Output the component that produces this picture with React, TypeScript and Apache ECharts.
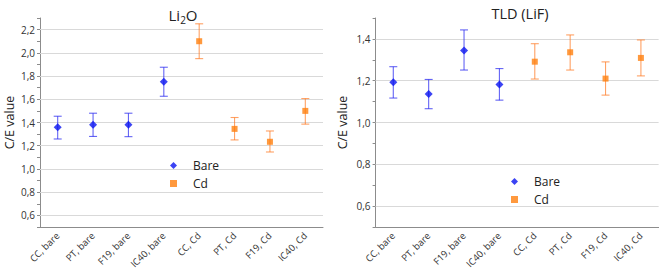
import React, { useEffect, useRef } from "react";
import * as echarts from "echarts";

const categories = ["CC, bare", "PT, bare", "F19, bare", "IC40, bare", "CC, Cd", "PT, Cd", "F19, Cd", "IC40, Cd"];

// Li2O panel
const li2oBare = [1.36, 1.38, 1.38, 1.75];
const li2oBareLow = [1.258, 1.28, 1.278, 1.626];
const li2oBareHigh = [1.454, 1.48, 1.48, 1.876];
const li2oCd = [2.1, 1.345, 1.234, 1.5];
const li2oCdLow = [1.95, 1.25, 1.146, 1.386];
const li2oCdHigh = [2.25, 1.443, 1.327, 1.606];

// TLD (LiF) panel
const tldBare = [1.192, 1.136, 1.345, 1.182];
const tldBareLow = [1.117, 1.066, 1.251, 1.107];
const tldBareHigh = [1.267, 1.206, 1.443, 1.258];
const tldCd = [1.291, 1.336, 1.21, 1.309];
const tldCdLow = [1.208, 1.251, 1.131, 1.223];
const tldCdHigh = [1.377, 1.419, 1.29, 1.395];

const li2oGrid = [0.6, 0.8, 1.0, 1.2, 1.4, 1.6, 1.8, 2.0, 2.2];
const tldGrid = [0.6, 0.8, 1.0, 1.2, 1.4];

const BLUE = "#0a14f0";
const BLUE_ERR = "rgba(40,40,240,0.72)";
const ORANGE = "#ff7f0e";
const ORANGE_ERR = "rgba(255,125,40,0.72)";
const FONT = "'Open Sans', 'Noto Sans', sans-serif";

function errRender(color: string) {
  return (params: any, api: any) => {
    const x = api.value(0);
    const lo = api.coord([x, api.value(1)]);
    const hi = api.coord([x, api.value(2)]);
    const w = 4;
    const style = { stroke: color, lineWidth: 1.1 };
    return {
      type: "group",
      children: [
        { type: "line", shape: { x1: lo[0], y1: lo[1], x2: hi[0], y2: hi[1] }, style },
        { type: "line", shape: { x1: lo[0] - w, y1: lo[1], x2: lo[0] + w, y2: lo[1] }, style },
        { type: "line", shape: { x1: hi[0] - w, y1: hi[1], x2: hi[0] + w, y2: hi[1] }, style },
      ],
    };
  };
}

function panelSeries(idx: number, bare: number[], bLo: number[], bHi: number[], cd: number[], cLo: number[], cHi: number[], grid: number[]) {
  return [
    {
      type: "custom",
      xAxisIndex: idx,
      yAxisIndex: idx,
      renderItem: errRender(BLUE_ERR),
      encode: { x: 0, y: [1, 2] },
      data: bare.map((_, i) => [i, bLo[i], bHi[i]]),
      z: 2,
      silent: true,
      markLine: {
        silent: true,
        symbol: "none",
        label: { show: false },
        lineStyle: { color: "#d9d9d9", width: 1, type: "solid" },
        data: grid.map((v) => ({ yAxis: v })),
        z: 1,
      },
    },
    {
      type: "custom",
      xAxisIndex: idx,
      yAxisIndex: idx,
      renderItem: errRender(ORANGE_ERR),
      encode: { x: 0, y: [1, 2] },
      data: cd.map((_, i) => [i + 4, cLo[i], cHi[i]]),
      z: 2,
      silent: true,
    },
    {
      name: "Bare",
      type: "scatter",
      xAxisIndex: idx,
      yAxisIndex: idx,
      symbol: "diamond",
      symbolSize: 8,
      itemStyle: { color: BLUE },
      data: bare.map((v, i) => [i, v]),
      z: 5,
    },
    {
      name: "Cd",
      type: "scatter",
      xAxisIndex: idx,
      yAxisIndex: idx,
      symbol: "rect",
      symbolSize: 6,
      itemStyle: { color: ORANGE },
      data: cd.map((v, i) => [i + 4, v]),
      z: 5,
    },
  ];
}

function xAxis(gridIndex: number) {
  return {
    type: "category",
    gridIndex,
    data: categories,
    boundaryGap: true,
    axisLine: { lineStyle: { color: "#8c8c8c" } },
    axisTick: { alignWithLabel: true, length: 4, lineStyle: { color: "#8c8c8c" } },
    axisLabel: { rotate: 45, fontSize: 9.5, color: "#333", fontFamily: FONT, margin: 7, interval: 0 },
    splitLine: { show: false },
  };
}

function yAxis(gridIndex: number, max: number, nameGap: number) {
  return {
    type: "value",
    gridIndex,
    min: 0.5,
    max,
    interval: 0.1,
    name: "C/E value",
    nameLocation: "middle",
    nameGap,
    nameTextStyle: { fontSize: 12.5, color: "#222", fontFamily: FONT },
    axisLine: { show: true, lineStyle: { color: "#8c8c8c" } },
    axisTick: { show: true, length: 3, lineStyle: { color: "#8c8c8c" } },
    axisLabel: {
      fontSize: 10,
      color: "#333",
      fontFamily: FONT,
      margin: 5,
      formatter: (v: number) => (Math.round(v * 10) % 2 === 0 ? v.toFixed(1).replace(".", ",") : ""),
    },
    splitLine: { show: false },
  };
}

export default function App() {
  const ref = useRef<HTMLDivElement>(null);
  useEffect(() => {
    if (!ref.current) return;
    const chart = echarts.init(ref.current, null, { renderer: "svg" });
    const legendText = {
      fontSize: 12,
      lineHeight: 13,
      color: "#222",
      fontFamily: FONT,
      rich: { g: { width: 11, fontSize: 12, lineHeight: 13 }, t: { fontSize: 12, lineHeight: 13, color: "#222", fontFamily: FONT } },
    };
    const legendCommon = {
      orient: "vertical",
      itemWidth: 7,
      itemHeight: 7,
      itemGap: 5,
      formatter: (name: string) => `{g|}{t|${name}}`,
      data: [{ name: "Bare", icon: "diamond" }, { name: "Cd", icon: "rect" }],
      textStyle: legendText,
    };
    chart.setOption({
      animation: false,
      backgroundColor: "#fff",
      title: [
        {
          text: "{a|Li}{s|2}{a|O}",
          left: 178,
          top: 1,
          textAlign: "center",
          textStyle: {
            fontWeight: "normal",
            rich: {
              a: { fontSize: 15, fontFamily: FONT, color: "#222", lineHeight: 18, fontWeight: "normal" },
              s: { fontSize: 10, fontFamily: FONT, color: "#222", lineHeight: 18, padding: [9, 0, 0, 0], fontWeight: "normal" },
            },
          },
        },
        {
          text: "TLD (LiF)",
          left: 515,
          top: 1,
          textAlign: "center",
          textStyle: { fontSize: 14.5, fontFamily: FONT, color: "#222", fontWeight: "normal" },
        },
      ],
      legend: [
        { ...legendCommon, left: 165, top: 154 },
        { ...legendCommon, left: 506, top: 170 },
      ],
      grid: [
        { left: 40, top: 18, width: 283, height: 209 },
        { left: 375.6, top: 18, width: 283, height: 209 },
      ],
      xAxis: [xAxis(0), xAxis(1)],
      yAxis: [yAxis(0, 2.3, 24), yAxis(1, 1.5, 27)],
      series: [
        ...panelSeries(0, li2oBare, li2oBareLow, li2oBareHigh, li2oCd, li2oCdLow, li2oCdHigh, li2oGrid),
        ...panelSeries(1, tldBare, tldBareLow, tldBareHigh, tldCd, tldCdLow, tldCdHigh, tldGrid),
      ],
    });
    return () => chart.dispose();
  }, []);
  return <div ref={ref} style={{ position: "fixed", left: 0, top: 0, width: 660, height: 274 }} />;
}
